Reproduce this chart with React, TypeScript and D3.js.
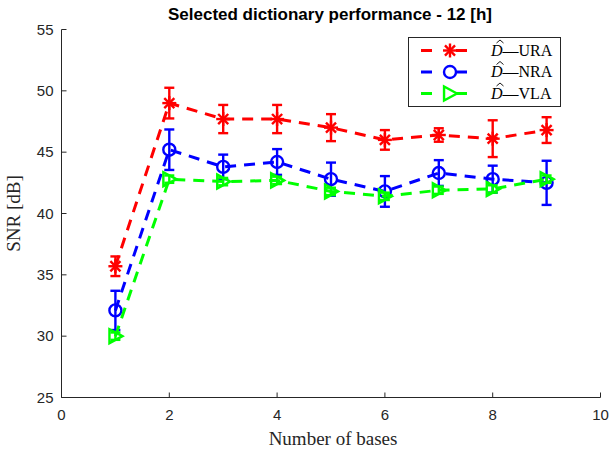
import React from "react";
import * as d3 from "d3";

const xs = [1, 2, 3, 4, 5, 6, 7, 8, 9];
const uraMean = [35.7, 49.0, 47.7, 47.7, 47.0, 46.0, 46.4, 46.1, 46.8];
const uraErr = [0.8, 1.25, 1.15, 1.15, 1.1, 0.8, 0.55, 1.5, 1.05];
const nraMean = [32.1, 45.2, 43.8, 44.2, 42.8, 41.8, 43.3, 42.8, 42.5];
const nraErr = [1.6, 1.65, 1.0, 1.05, 1.35, 1.25, 1.05, 1.1, 1.8];
const vlaMean = [30.0, 42.8, 42.6, 42.7, 41.8, 41.4, 41.9, 42.0, 42.8];
const vlaErr = [0.3, 0.3, 0.3, 0.3, 0.3, 0.3, 0.3, 0.3, 0.3];
const xTicks = [0, 2, 4, 6, 8, 10];
const yTicks = [25, 30, 35, 40, 45, 50, 55];
const seriesNames = ["URA", "NRA", "VLA"];

const W = 616, H = 452;
const x = d3.scaleLinear().domain([0, 10]).range([61.5, 600.5]);
const y = d3.scaleLinear().domain([25, 55]).range([397.5, 29.5]);

type Kind = "star" | "circle" | "tri";

function Marker({ kind, cx, cy, color }: { kind: Kind; cx: number; cy: number; color: string }) {
  if (kind === "star") {
    const r = 7;
    const d = r * 0.72;
    return (
      <g stroke={color} strokeWidth={2.4} fill="none">
        <line x1={cx - r} y1={cy} x2={cx + r} y2={cy} />
        <line x1={cx} y1={cy - r} x2={cx} y2={cy + r} />
        <line x1={cx - d} y1={cy - d} x2={cx + d} y2={cy + d} />
        <line x1={cx - d} y1={cy + d} x2={cx + d} y2={cy - d} />
      </g>
    );
  }
  if (kind === "circle") {
    return <circle cx={cx} cy={cy} r={6} stroke={color} strokeWidth={2.4} fill="none" />;
  }
  const s = 7;
  const p = `${cx + s},${cy} ${cx - s * 0.85},${cy - s} ${cx - s * 0.85},${cy + s}`;
  return <polygon points={p} stroke={color} strokeWidth={2.4} fill="none" strokeLinejoin="miter" />;
}

const series = [
  { name: seriesNames[0], mean: uraMean, err: uraErr, color: "#ff0000", kind: "star" as Kind },
  { name: seriesNames[1], mean: nraMean, err: nraErr, color: "#0000ff", kind: "circle" as Kind },
  { name: seriesNames[2], mean: vlaMean, err: vlaErr, color: "#00ff00", kind: "tri" as Kind },
];

export default function App() {
  const line = d3.line<number>().x((_, i) => x(xs[i])).y((v) => y(v));
  const axisColor = "#262626";
  const sans = "'Liberation Sans', Arial, Helvetica, sans-serif";
  const serif = "'Liberation Serif', 'Times New Roman', serif";
  const lx = 408.5, ly = 37.5, lw = 152, lh = 69;
  return (
    <svg width={W} height={H} style={{ position: "absolute", left: 0, top: 0, background: "#fff" }}>
      <rect x={0} y={0} width={W} height={H} fill="#fff" />
      {/* axes */}
      <line x1={x(0)} y1={y(25)} x2={x(10)} y2={y(25)} stroke={axisColor} strokeWidth={1} />
      <line x1={x(0)} y1={y(25)} x2={x(0)} y2={y(55)} stroke={axisColor} strokeWidth={1} />
      {xTicks.map((t) => (
        <g key={"xt" + t}>
          <line x1={x(t)} y1={y(25)} x2={x(t)} y2={y(25) - 5} stroke={axisColor} />
          <text x={x(t)} y={y(25) + 22} textAnchor="middle" fontFamily={sans} fontSize={15} fill={axisColor}>{t}</text>
        </g>
      ))}
      {yTicks.map((t) => (
        <g key={"yt" + t}>
          <line x1={x(0)} y1={y(t)} x2={x(0) + 5} y2={y(t)} stroke={axisColor} />
          <text x={x(0) - 8} y={y(t) + 5} textAnchor="end" fontFamily={sans} fontSize={15} fill={axisColor}>{t}</text>
        </g>
      ))}
      <text x={330} y={20} textAnchor="middle" fontFamily={sans} fontWeight="bold" fontSize={17} fill="#000">Selected dictionary performance - 12 [h]</text>
      <text x={333} y={445} textAnchor="middle" fontFamily={serif} fontSize={19} fill={axisColor}>Number of bases</text>
      <text transform={`translate(20,${y(40)}) rotate(-90)`} textAnchor="middle" fontFamily={serif} fontSize={19} fill={axisColor}>SNR [dB]</text>
      {/* series */}
      {series.map((s) => (
        <g key={s.name}>
          <path d={line(s.mean) || ""} fill="none" stroke={s.color} strokeWidth={3} strokeDasharray="11,8" />
          {s.mean.map((m, i) => {
            const cx = x(xs[i]);
            const y1 = y(m + s.err[i]);
            const y2 = y(m - s.err[i]);
            return (
              <g key={i} stroke={s.color} strokeWidth={2.4}>
                <line x1={cx} y1={y1} x2={cx} y2={y2} />
                <line x1={cx - 5} y1={y1} x2={cx + 5} y2={y1} />
                <line x1={cx - 5} y1={y2} x2={cx + 5} y2={y2} />
              </g>
            );
          })}
          {s.mean.map((m, i) => (
            <Marker key={"m" + i} kind={s.kind} cx={x(xs[i])} cy={y(m)} color={s.color} />
          ))}
        </g>
      ))}
      {/* legend */}
      <rect x={lx} y={ly} width={lw} height={lh} fill="#fff" stroke={axisColor} strokeWidth={1} />
      {series.map((s, i) => {
        const cy = ly + 13 + i * 21.5;
        return (
          <g key={"lg" + s.name}>
            <line x1={421} y1={cy} x2={480} y2={cy} stroke={s.color} strokeWidth={3} strokeDasharray="11,24" />
            <Marker kind={s.kind} cx={450} cy={cy} color={s.color} />
            <path d={`M${496.5},${cy - 7.5} L${500},${cy - 10.5} L${503.5},${cy - 7.5}`} fill="none" stroke="#000" strokeWidth={0.9} />
            <text x={491} y={cy + 5} fontFamily={serif} fontSize={16} fill="#000">
              <tspan fontStyle="italic">D</tspan>—{s.name}
            </text>
          </g>
        );
      })}
    </svg>
  );
}
